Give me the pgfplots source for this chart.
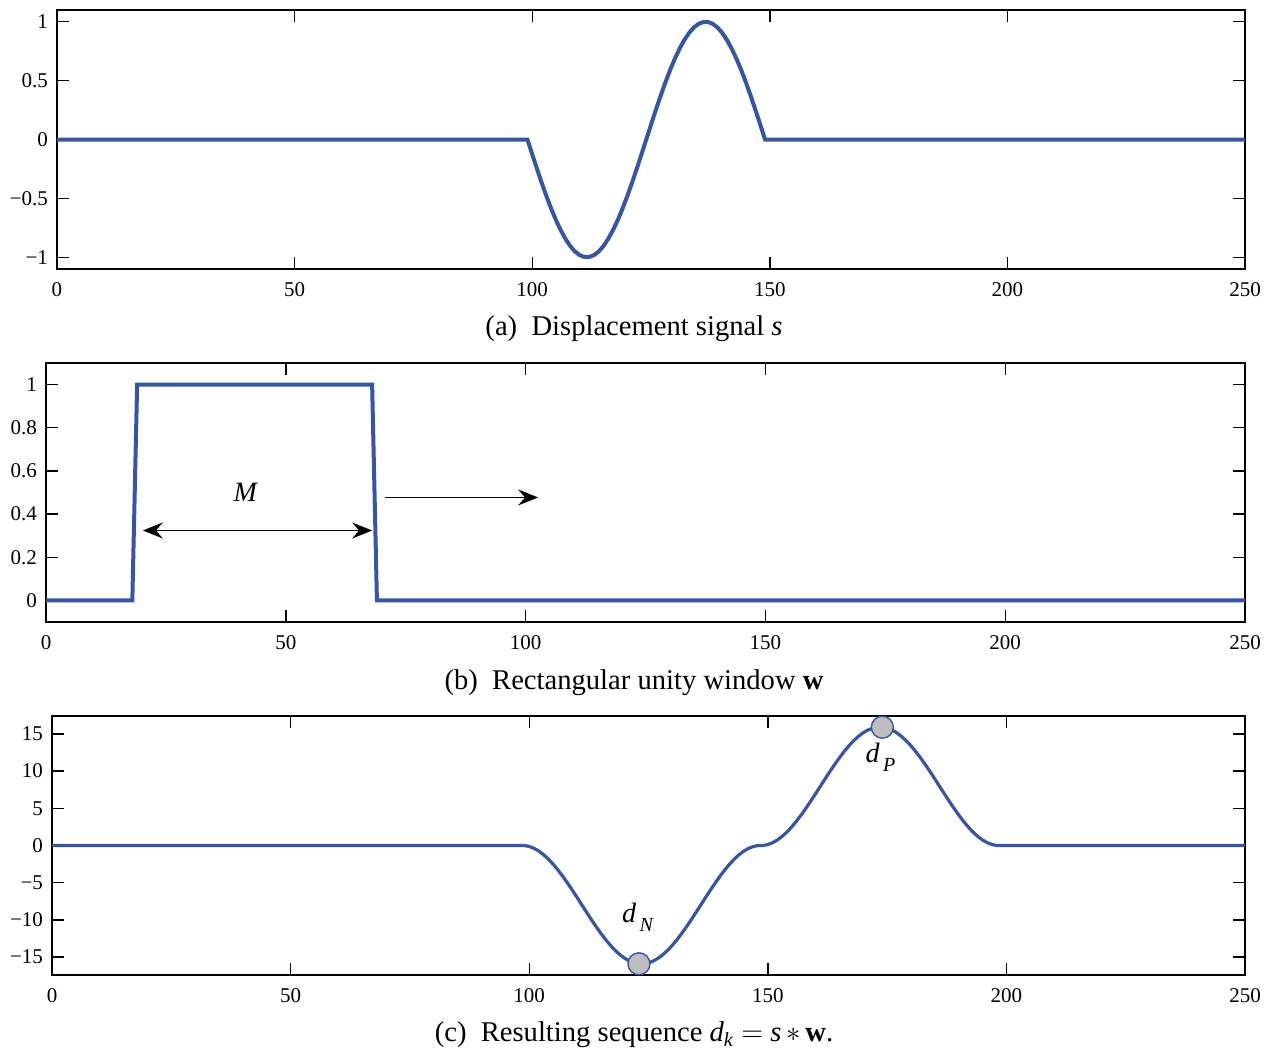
\documentclass[border=0pt]{standalone}
\usepackage{fontspec}
\setmainfont{Liberation Serif}
\usepackage{pgfplots}
\pgfplotsset{compat=1.18}
\usetikzlibrary{arrows.meta}
\definecolor{cblue}{RGB}{55,85,165}
\definecolor{mgray}{RGB}{190,190,192}
\newcommand\tm{\fontsize{10.5}{12}\selectfont}
\newcommand\capf{\fontsize{14.3}{16}\selectfont}
\begin{document}
\begin{tikzpicture}
\path (0,0) rectangle (635pt,-524pt);
\pgfplotsset{every axis/.append style={
  scale only axis, xmin=0, xmax=250, height=129.5pt,
  axis line style={line width=0.9pt, black},
  major tick style={line width=0.7pt, black},
  major tick length=6pt, tick align=inside,
  tick label style={font=\tm},
  xtick={0,50,100,150,200,250},
  xticklabels={0,50,100,150,200,250},
  xticklabel style={yshift=-3pt},
  yticklabel style={xshift=-1pt},
  anchor=north west,
  clip=false
}}
% ---------- (a)
\begin{axis}[at={(28.5pt,-5pt)}, width=594pt, ymin=-1.1, ymax=1.1,
  ytick={-1,-0.5,0,0.5,1}, yticklabels={−1,−0.5,0,0.5,1}]
\addplot[cblue, line width=2pt] coordinates {
(0,0) (99,0) (100,-0.1253) (101,-0.2487) (102,-0.3681) (103,-0.4818) (104,-0.5878)
(105,-0.6845) (106,-0.7705) (107,-0.8443) (108,-0.9048) (109,-0.9511) (110,-0.9823)
(111,-0.9980) (112,-0.9980) (113,-0.9823) (114,-0.9511) (115,-0.9048) (116,-0.8443)
(117,-0.7705) (118,-0.6845) (119,-0.5878) (120,-0.4818) (121,-0.3681) (122,-0.2487)
(123,-0.1253) (124,0) (125,0.1253) (126,0.2487) (127,0.3681) (128,0.4818) (129,0.5878)
(130,0.6845) (131,0.7705) (132,0.8443) (133,0.9048) (134,0.9511) (135,0.9823)
(136,0.9980) (137,0.9980) (138,0.9823) (139,0.9511) (140,0.9048) (141,0.8443)
(142,0.7705) (143,0.6845) (144,0.5878) (145,0.4818) (146,0.3681) (147,0.2487)
(148,0.1253) (149,0) (250,0)};
\end{axis}
\node[font=\capf] at (317pt,-164.5pt) {(a)\ \ Displacement signal \textit{s}};
% ---------- (b)
\begin{axis}[at={(23pt,-181.5pt)}, width=599.5pt, ymin=-0.1, ymax=1.1,
  ytick={0,0.2,0.4,0.6,0.8,1}, yticklabels={0,0.2,0.4,0.6,0.8,1}]
\addplot[cblue, line width=2pt] coordinates {(0,0) (18,0) (19,1) (68,1) (69,0) (250,0)};
\draw[line width=0.7pt, {Stealth[length=10pt,width=8pt,inset=3.5pt]}-{Stealth[length=10pt,width=8pt,inset=3.5pt]}]
  (axis cs:20.2,0.324) -- (axis cs:68,0.324);
\draw[line width=0.7pt, -{Stealth[length=10pt,width=8pt,inset=3.5pt]}]
  (axis cs:70.7,0.477) -- (axis cs:102.6,0.477);
\node[font=\fontsize{14}{16}\selectfont] at (axis cs:41.7,0.5) {\textit{M}};
\end{axis}
\node[font=\capf] at (317pt,-341.5pt) {(b)\ \ Rectangular unity window \textbf{w}};
% ---------- (c)
\begin{axis}[at={(26pt,-358pt)}, width=596.5pt, ymin=-17.4, ymax=17.4,
  ytick={-15,-10,-5,0,5,10,15}, yticklabels={−15,−10,−5,0,5,10,15}]
\addplot[cblue, line width=1.6pt] coordinates {
(0,0) (99,0) (100,-0.1253) (101,-0.3740) (102,-0.7421) (103,-1.2239) (104,-1.8117)
(105,-2.4962) (106,-3.2667) (107,-4.1110) (108,-5.0158) (109,-5.9669) (110,-6.9492)
(111,-7.9472) (112,-8.9452) (113,-9.9275) (114,-10.8786) (115,-11.7834) (116,-12.6277)
(117,-13.3982) (118,-14.0827) (119,-14.6705) (120,-15.1523) (121,-15.5204) (122,-15.7691)
(123,-15.8944) (124,-15.8944) (125,-15.7691) (126,-15.5204) (127,-15.1523) (128,-14.6705)
(129,-14.0827) (130,-13.3982) (131,-12.6277) (132,-11.7834) (133,-10.8786) (134,-9.9275)
(135,-8.9452) (136,-7.9472) (137,-6.9492) (138,-5.9669) (139,-5.0158) (140,-4.1110)
(141,-3.2667) (142,-2.4962) (143,-1.8117) (144,-1.2239) (145,-0.7421) (146,-0.3740)
(147,-0.1253) (148,0) (149,0)
(150,0.1253) (151,0.3740) (152,0.7421) (153,1.2239) (154,1.8117)
(155,2.4962) (156,3.2667) (157,4.1110) (158,5.0158) (159,5.9669) (160,6.9492)
(161,7.9472) (162,8.9452) (163,9.9275) (164,10.8786) (165,11.7834) (166,12.6277)
(167,13.3982) (168,14.0827) (169,14.6705) (170,15.1523) (171,15.5204) (172,15.7691)
(173,15.8944) (174,15.8944) (175,15.7691) (176,15.5204) (177,15.1523) (178,14.6705)
(179,14.0827) (180,13.3982) (181,12.6277) (182,11.7834) (183,10.8786) (184,9.9275)
(185,8.9452) (186,7.9472) (187,6.9492) (188,5.9669) (189,5.0158) (190,4.1110)
(191,3.2667) (192,2.4962) (193,1.8117) (194,1.2239) (195,0.7421) (196,0.3740)
(197,0.1253) (198,0) (250,0)};
\addplot[only marks, mark=*, mark size=5.5pt, mark options={fill=mgray, draw=cblue, line width=0.7pt}]
  coordinates {(123,-15.8944) (174,15.8944)};
\node[font=\fontsize{14}{16}\selectfont] at (axis cs:122.8,-9.6) {\textit{d}\raisebox{-0.7ex}{\fontsize{10}{12}\selectfont\,\textit{N}}};
\node[font=\fontsize{14}{16}\selectfont] at (axis cs:173.6,11.9) {\textit{d}\raisebox{-0.7ex}{\fontsize{10}{12}\selectfont\,\textit{P}}};
\end{axis}
\node[font=\capf] at (317pt,-517.5pt) {(c)\ \ Resulting sequence \textit{d}\textsubscript{\textit{k}}\ $=$\ \textit{s}\,$\ast$\,\textbf{w}.};
\end{tikzpicture}
\end{document}
